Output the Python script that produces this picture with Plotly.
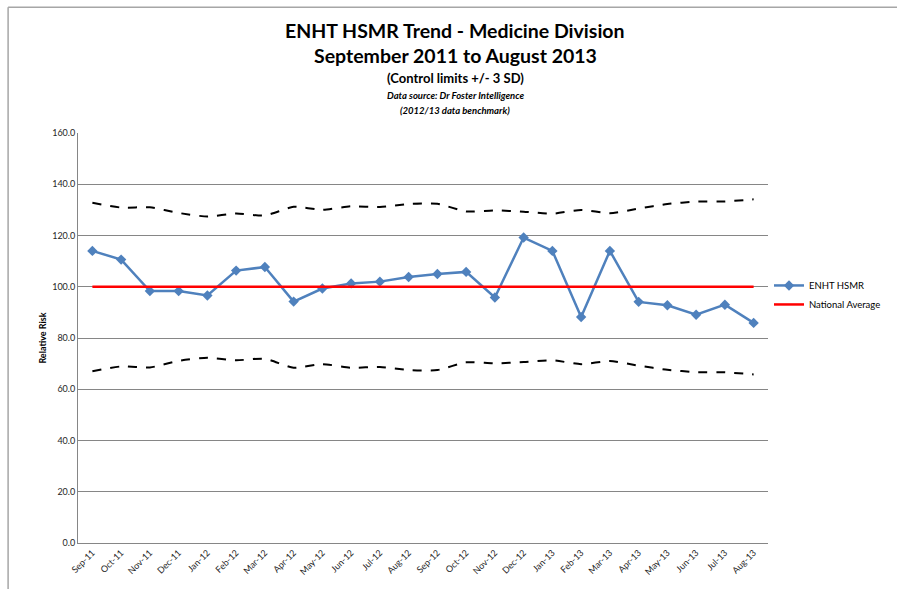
import plotly.graph_objects as go

# months and series values
months = ['Sep-11', 'Oct-11', 'Nov-11', 'Dec-11', 'Jan-12', 'Feb-12', 'Mar-12', 'Apr-12',
          'May-12', 'Jun-12', 'Jul-12', 'Aug-12', 'Sep-12', 'Oct-12', 'Nov-12', 'Dec-12',
          'Jan-13', 'Feb-13', 'Mar-13', 'Apr-13', 'May-13', 'Jun-13', 'Jul-13', 'Aug-13']

hsmr = [114.0, 110.6, 98.3, 98.3, 96.6, 106.3, 107.7, 94.2,
        99.3, 101.3, 102.0, 103.8, 105.0, 105.8, 95.8, 119.2,
        114.0, 88.2, 114.0, 94.1, 92.8, 89.1, 93.0, 85.9]

national_avg = [100.0] * 24

upper_limit = [132.8, 130.9, 131.0, 128.8, 127.4, 128.6, 127.8, 131.2,
               130.0, 131.4, 131.1, 132.3, 132.4, 129.4, 129.8, 129.3,
               128.5, 130.0, 128.7, 130.5, 132.3, 133.2, 133.3, 134.1]

lower_limit = [67.0, 68.9, 68.5, 71.1, 72.3, 71.3, 71.9, 68.4,
               69.8, 68.4, 68.7, 67.5, 67.5, 70.5, 70.1, 70.6,
               71.3, 69.8, 71.0, 69.2, 67.6, 66.7, 66.6, 65.8]

FONT = 'Lato'

fig = go.Figure()

# control limits (dashed, smoothed like Excel)
for vals in (upper_limit, lower_limit):
    fig.add_trace(go.Scatter(
        x=months, y=vals, mode='lines', showlegend=False, hoverinfo='skip',
        line=dict(color='black', width=2, dash='dash', shape='spline', smoothing=0.6)
    ))

fig.add_trace(go.Scatter(
    x=months, y=hsmr, mode='lines+markers', name='ENHT HSMR',
    line=dict(color='#4F81BD', width=2.5),
    marker=dict(symbol='diamond', size=8, color='#4F81BD')
))

fig.add_trace(go.Scatter(
    x=months, y=national_avg, mode='lines', name='National Average',
    line=dict(color='#FF0000', width=2.5)
))

# title block, one annotation per line
title_lines = [
    ('<b>ENHT HSMR Trend - Medicine Division</b>', 19.5, 1.251),
    ('<b>September 2011 to August 2013</b>', 19.5, 1.190),
    ('<b>(Control limits +/- 3 SD)</b>', 13, 1.134),
    ('<b><i>Data source: Dr Foster Intelligence</i></b>', 9.5, 1.091),
    ('<b><i>(2012/13 data benchmark)</i></b>', 9.5, 1.055),
]
for text, size, ypos in title_lines:
    fig.add_annotation(text=text, x=0.547, y=ypos, xref='paper', yref='paper',
                       showarrow=False, xanchor='center', yanchor='middle',
                       font=dict(family=FONT, size=size, color='black'))

# chart frame (left and top edges visible)
frame = dict(color='#A6A6A6', width=1.5)
fig.add_shape(type='line', xref='paper', yref='paper', x0=-0.1013, x1=-0.1013, y0=1.307, y1=-0.2, line=frame)
fig.add_shape(type='line', xref='paper', yref='paper', x0=-0.1013, x1=1.3, y0=1.307, y1=1.307, line=frame)

fig.update_layout(
    width=897, height=589,
    margin=dict(l=78, r=128, t=133, b=46),
    paper_bgcolor='white', plot_bgcolor='white',
    font=dict(family=FONT, size=9, color='#262626'),
    legend=dict(x=1.0, y=0.605, xanchor='left', yanchor='middle',
                font=dict(family=FONT, size=9.5, color='black'),
                tracegroupgap=0, itemwidth=30, bgcolor='rgba(0,0,0,0)'),
    xaxis=dict(
        type='category', range=[-0.5, 23.5], tickangle=-45,
        showgrid=False, showline=True, linecolor='#868686', linewidth=1,
        ticks='', tickfont=dict(family=FONT, size=9, color='#262626')
    ),
    yaxis=dict(
        range=[0, 160], dtick=20, tickformat='.1f',
        showgrid=True, gridcolor='#868686', gridwidth=1,
        showline=True, linecolor='#868686', linewidth=1, zeroline=False,
        ticks='', tickfont=dict(family=FONT, size=9, color='#262626'),
        title=dict(text='<b>Relative Risk</b>', font=dict(family=FONT, size=9, color='black'), standoff=4)
    ),
)

fig.write_html('out.html', config={'displayModeBar': False},
               post_script="document.body.style.margin='0px';")
